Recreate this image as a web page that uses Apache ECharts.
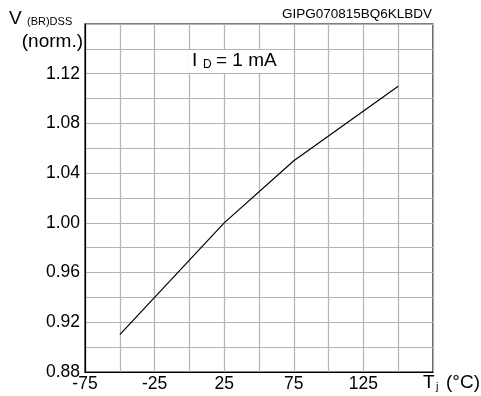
<!DOCTYPE html>
<html>
<head>
<meta charset="utf-8">
<script src="https://cdn.jsdelivr.net/npm/echarts@6/dist/echarts.min.js"></script>
<style>html,body{margin:0;padding:0;background:#fff;}#c{width:481px;height:396px;}</style>
</head>
<body>
<div id="c"></div>
<script>
var tempC = [-50, 25, 75, 150];
var vNorm = [0.91, 1.00, 1.05, 1.11];
var xTickLabels = [-75, -25, 25, 75, 125];
var yTickLabels = ['0.88', '0.92', '0.96', '1.00', '1.04', '1.08', '1.12'];

var chart = echarts.init(document.getElementById('c'), null, {renderer: 'canvas'});
var font = 'Liberation Sans, Arial, sans-serif';
function txt(x, y, s, size, align) {
  return {type: 'text', x: x, y: y, z: 11, style: {
    text: s, align: align || 'left', verticalAlign: 'middle', fontFamily: font, fontSize: size, fill: '#000'
  }};
}
var option = {
  animation: false,
  backgroundColor: '#fff',
  grid: {left: 85, right: 48, top: 24, bottom: 24, show: true, borderColor: '#000', borderWidth: 1.2, backgroundColor: 'transparent'},
  xAxis: {
    type: 'value', min: -75, max: 175, interval: 25,
    axisLine: {show: true, onZero: false, lineStyle: {color: '#000', width: 1.2}},
    axisTick: {show: false},
    splitLine: {show: true, lineStyle: {color: '#b4b4b4', width: 1.2}},
    axisLabel: {
      color: '#000', fontFamily: font, fontSize: 17.5, margin: 3,
      formatter: function (v) {
        var r = Math.round(v);
        return xTickLabels.indexOf(r) >= 0 ? String(r) : '';
      }
    }
  },
  yAxis: {
    type: 'value', min: 0.88, max: 1.16, interval: 0.02,
    axisLine: {show: true, onZero: false, lineStyle: {color: '#000', width: 1.2}},
    axisTick: {show: false},
    splitLine: {show: true, lineStyle: {color: '#b4b4b4', width: 1.2}},
    axisLabel: {
      color: '#000', fontFamily: font, fontSize: 17.5, margin: 5,
      formatter: function (v) {
        var s = v.toFixed(2);
        return yTickLabels.indexOf(s) >= 0 ? s : '';
      }
    }
  },
  series: [{
    type: 'line',
    data: tempC.map(function (t, i) { return [t, vNorm[i]]; }),
    showSymbol: false,
    lineStyle: {color: '#000', width: 1.2},
    z: 3
  }],
  graphic: [
    {type: 'rect', shape: {x: 189, y: 50, width: 102, height: 23}, style: {fill: '#fff'}, z: 10},
    txt(192, 61, 'I', 19),
    txt(203, 65, 'D', 12),
    txt(216, 61, '= 1 mA', 19),
    txt(432, 14, 'GIPG070815BQ6KLBDV', 13.5, 'right'),
    txt(9, 19, 'V', 19),
    txt(27, 22, '(BR)DSS', 11),
    txt(83, 42, '(norm.)', 19, 'right'),
    txt(423, 383, 'T', 19),
    txt(436, 387, 'j', 11),
    txt(446, 383, '(°C)', 19)
  ]
};
chart.setOption(option);
</script>
</body>
</html>
